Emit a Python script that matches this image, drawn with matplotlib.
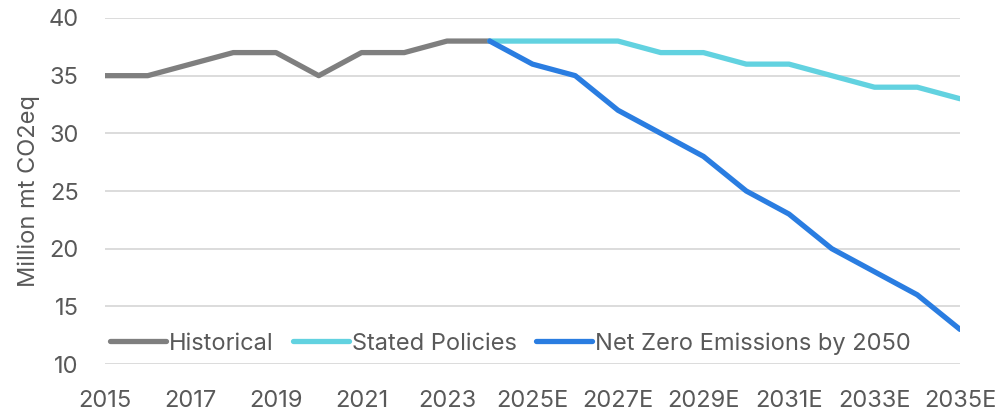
import matplotlib
matplotlib.use("Agg")
import matplotlib.pyplot as plt

years = ["2015", "2016", "2017", "2018", "2019", "2020", "2021", "2022", "2023", "2024",
         "2025E", "2026E", "2027E", "2028E", "2029E", "2030E", "2031E", "2032E", "2033E", "2034E", "2035E"]
historical = [35, 35, 36, 37, 37, 35, 37, 37, 38, 38]
stated = [38, 38, 38, 38, 37, 37, 36, 36, 35, 34, 34, 33]
netzero = [38, 36, 35, 32, 30, 28, 25, 23, 20, 18, 16, 13]

plt.rcParams['font.family'] = ['Inter', 'DejaVu Sans']
txt = '#595959'
fs = 17

fig = plt.figure(figsize=(9.98, 4.15), dpi=100)
ax = fig.add_axes([105/998, 1-364/415, (960-105)/998, (364-18)/415])

x_all = list(range(len(years)))
ax.plot(x_all[:10], historical, color='#7f7f7f', lw=3.8, solid_capstyle='round', label='Historical', zorder=3)
ax.plot(x_all[9:], stated, color='#62d2e0', lw=3.8, solid_capstyle='round', label='Stated Policies', zorder=3)
ax.plot(x_all[9:], netzero, color='#2a7de1', lw=3.8, solid_capstyle='round', label='Net Zero Emissions by 2050', zorder=4)

ax.set_xlim(0, len(years)-1)
ax.set_ylim(10, 40)
ax.set_yticks(range(10, 41, 5))
ax.set_xticks(x_all[::2])
ax.set_xticklabels(years[::2])
ax.grid(axis='y', color='#d9d9d9', lw=1.3)
ax.set_axisbelow(True)
for s in ax.spines.values():
    s.set_visible(False)
ax.tick_params(length=0, labelsize=fs, labelcolor=txt)
ax.tick_params(axis='x', pad=19)
ax.tick_params(axis='y', pad=19)
ax.set_ylabel('Million mt CO2eq', fontsize=fs, color=txt, labelpad=6)

leg = ax.legend(loc='lower left', bbox_to_anchor=(-0.005, 0.0), ncol=3, frameon=False,
                fontsize=fs, handlelength=2.35, handletextpad=0.12, columnspacing=0.85,
                labelcolor=txt, borderaxespad=0)

fig.savefig('out.png', dpi=100)
